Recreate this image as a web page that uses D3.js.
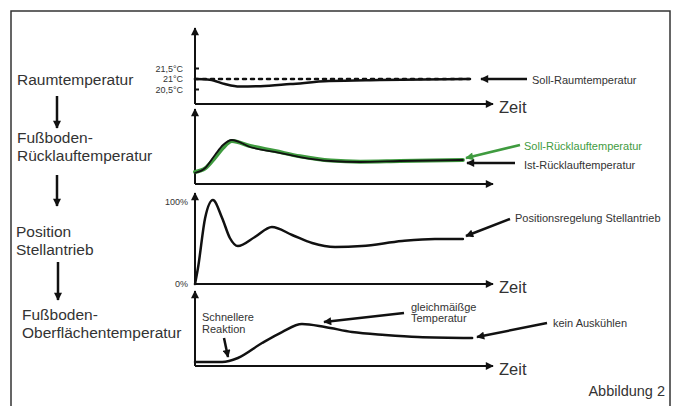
<!DOCTYPE html>
<html>
<head>
<meta charset="utf-8">
<script src="https://cdn.jsdelivr.net/npm/d3@7"></script>
<style>
  body { margin: 0; background: #fff; }
  text { font-family: "Liberation Sans", Arial, sans-serif; fill: #333; }
</style>
</head>
<body>
<div id="vis"></div>
<script>
// schematic: Raumtemperatur -> Ruecklauf -> Stellantrieb -> Oberflaeche
// time is in arbitrary units 0..100, y values are arbitrary per panel

// panel 1: room temperature (deg C)
const roomTime = [0, 5, 10, 15, 22, 32, 45, 62, 92];
const roomTemp = [21.0, 20.97, 20.76, 20.64, 20.66, 20.76, 20.9, 20.95, 21.0];
const roomSetTime = [0, 93];
const roomSetTemp = [21, 21];
const roomTickValues = [20.5, 21, 21.5];
const roomTickLabels = ["20,5°C", "21°C", "21,5°C"];

// panel 2: return temperature (relative)
const returnTime = [0, 3.4, 6.7, 9.4, 12.4, 18.5, 26.8, 35.2, 45.6, 55.4, 68.8, 89.9];
const returnIst = [15.5, 22.5, 40.8, 54.9, 62, 52.1, 45.1, 38, 32.4, 31, 32.4, 33.8];
const returnSoll = [17, 22, 37, 51, 60.5, 53.5, 46.5, 39, 33, 31.5, 32.4, 33.8];

// panel 3: actuator position (%)
const valveTime = [0, 1, 3.4, 6, 9.1, 11.7, 14.4, 20.1, 25.8, 32.6, 39.3, 47, 56, 69.5, 80.5, 89.9];
const valvePos = [0, 19.5, 80.5, 102.4, 80.5, 56.1, 46.3, 57.3, 69.5, 59.8, 50, 45.1, 46.3, 52.4, 54.9, 54.9];
const valveTickValues = [0, 100];
const valveTickLabels = ["0%", "100%"];

// panel 4: floor surface temperature (relative)
const surfaceTime = [0, 9.1, 14.4, 22.5, 29.2, 35.9, 43.6, 52.7, 63.8, 74.8, 93];
const surfaceTemp = [6.1, 6.1, 12.1, 34.8, 51.5, 63.6, 59.1, 51.5, 47, 43.9, 42.4];

// left side labels
const stageLabels = [
  ["Raumtemperatur"],
  ["Fußboden-", "Rücklauftemperatur"],
  ["Position", "Stellantrieb"],
  ["Fußboden-", "Oberflächentemperatur"]
];

const width = 675;
const height = 406;
const green = "#3f9b3f";

const svg = d3.select("#vis").append("svg")
    .attr("width", width)
    .attr("height", height);

// arrow heads
const defs = svg.append("defs");
const addMarker = (id, color) => {
  defs.append("marker")
      .attr("id", id)
      .attr("viewBox", "0 0 10 10")
      .attr("refX", 9)
      .attr("refY", 5)
      .attr("markerUnits", "userSpaceOnUse")
      .attr("markerWidth", 10)
      .attr("markerHeight", 8)
      .attr("orient", "auto")
    .append("path")
      .attr("d", "M0,0 L10,5 L0,10 z")
      .attr("fill", color);
};
addMarker("head", "#111");
addMarker("headGreen", green);

// frame
svg.append("rect")
    .attr("x", 11).attr("y", 11)
    .attr("width", 659).attr("height", 402)
    .attr("fill", "none")
    .attr("stroke", "#333")
    .attr("stroke-width", 1.5);

const x = d3.scaleLinear().domain([0, 100]).range([195, 493]);

// panel frames (axis arrows)
const panels = [
  { top: 28, bottom: 104, zeit: true },
  { top: 109, bottom: 184, zeit: false },
  { top: 193, bottom: 284, zeit: true },
  { top: 291, bottom: 366, zeit: true }
];

const arrow = (x1, y1, x2, y2, color, w) => {
  svg.append("line")
      .attr("x1", x1).attr("y1", y1)
      .attr("x2", x2).attr("y2", y2)
      .attr("stroke", color || "#111")
      .attr("stroke-width", w || 2.5)
      .attr("marker-end", color === green ? "url(#headGreen)" : "url(#head)");
};

panels.forEach(p => {
  arrow(x(0), p.bottom, x(0), p.top, "#111", 2);
  arrow(x(0), p.bottom, x(100), p.bottom, "#111", 2);
  if (p.zeit) {
    svg.append("text")
        .attr("x", x(100) + 6)
        .attr("y", p.bottom + 3)
        .attr("dy", "0.35em")
        .attr("font-size", 16.5)
        .text("Zeit");
  }
});

const line = (sx, sy) => d3.line()
    .x(d => sx(d[0]))
    .y(d => sy(d[1]))
    .curve(d3.curveMonotoneX);

const drawCurve = (ts, vs, sy, color, w, dash) => {
  svg.append("path")
      .datum(ts.map((t, i) => [t, vs[i]]))
      .attr("d", line(x, sy))
      .attr("fill", "none")
      .attr("stroke", color)
      .attr("stroke-width", w)
      .attr("stroke-linecap", "round")
      .attr("stroke-dasharray", dash || null);
};

// panel 1
const yRoom = d3.scaleLinear().domain([20.5, 21.5]).range([89.5, 68.5]);
drawCurve(roomSetTime, roomSetTemp, yRoom, "#111", 2.5, "3,5");
drawCurve(roomTime, roomTemp, yRoom, "#111", 2.5);
const roomAxis = svg.append("g")
    .attr("transform", `translate(${x(0)},0)`)
    .call(d3.axisLeft(yRoom).tickValues(roomTickValues)
        .tickFormat((d, i) => roomTickLabels[i])
        .tickSize(0).tickPadding(12));
roomAxis.select(".domain").remove();
roomAxis.selectAll("text").attr("font-size", 9).attr("font-family", "Liberation Sans, Arial, sans-serif").attr("fill", "#444");
[20.5, 21.5].forEach(v => {
  svg.append("line")
      .attr("x1", x(0)).attr("x2", x(0) + 4)
      .attr("y1", yRoom(v)).attr("y2", yRoom(v))
      .attr("stroke", "#111").attr("stroke-width", 2);
});

// panel 2
const yReturn = d3.scaleLinear().domain([0, 100]).range([184, 113]);
drawCurve(returnTime, returnSoll, yReturn, green, 4);
drawCurve(returnTime, returnIst, yReturn, "#111", 1.8);

// panel 3
const yValve = d3.scaleLinear().domain([0, 100]).range([284, 202]);
drawCurve(valveTime, valvePos, yValve, "#111", 2.5);
const valveAxis = svg.append("g")
    .attr("transform", `translate(${x(0)},0)`)
    .call(d3.axisLeft(yValve).tickValues(valveTickValues)
        .tickFormat((d, i) => valveTickLabels[i])
        .tickSize(0).tickPadding(7));
valveAxis.select(".domain").remove();
valveAxis.selectAll("text").attr("font-size", 9).attr("font-family", "Liberation Sans, Arial, sans-serif").attr("fill", "#444");

// panel 4
const ySurface = d3.scaleLinear().domain([0, 100]).range([366, 300]);
drawCurve(surfaceTime, surfaceTemp, ySurface, "#111", 2.5);

// left labels and arrows
const labelPos = [
  { x: 17, y: [80] },
  { x: 17, y: [138, 156] },
  { x: 16, y: [232, 250] },
  { x: 22, y: [315, 333] }
];
stageLabels.forEach((lines, i) => {
  lines.forEach((s, j) => {
    svg.append("text")
        .attr("x", labelPos[i].x)
        .attr("y", labelPos[i].y[j])
        .attr("dy", "0.35em")
        .attr("font-size", 15.5)
        .text(s);
  });
});
arrow(57, 96, 57, 128);
arrow(57, 175, 57, 206);
arrow(58, 262, 58, 300);

// annotations
const note = (s, tx, ty, color) => {
  svg.append("text")
      .attr("x", tx).attr("y", ty)
      .attr("dy", "0.35em")
      .attr("font-size", 11)
      .style("fill", color || "#333")
      .text(s);
};
arrow(527, 79, 481, 79);
note("Soll-Raumtemperatur", 532, 80);

arrow(520, 145, 466, 158, green);
note("Soll-Rücklauftemperatur", 524, 146, green);
arrow(515, 163, 467, 163);
note("Ist-Rücklauftemperatur", 524, 165);

arrow(510, 219, 466, 236);
note("Positionsregelung Stellantrieb", 515, 218);

note("Schnellere", 202, 317);
note("Reaktion", 202, 329);
arrow(224, 338, 228, 357);

note("gleichmäißge", 411, 307);
note("Temperatur", 411, 318);
arrow(404, 313, 324, 322);

arrow(547, 323, 477, 337);
note("kein Auskühlen", 553, 323);

svg.append("text")
    .attr("x", 665).attr("y", 396)
    .attr("text-anchor", "end")
    .attr("font-size", 14.5)
    .text("Abbildung 2");
</script>
</body>
</html>
